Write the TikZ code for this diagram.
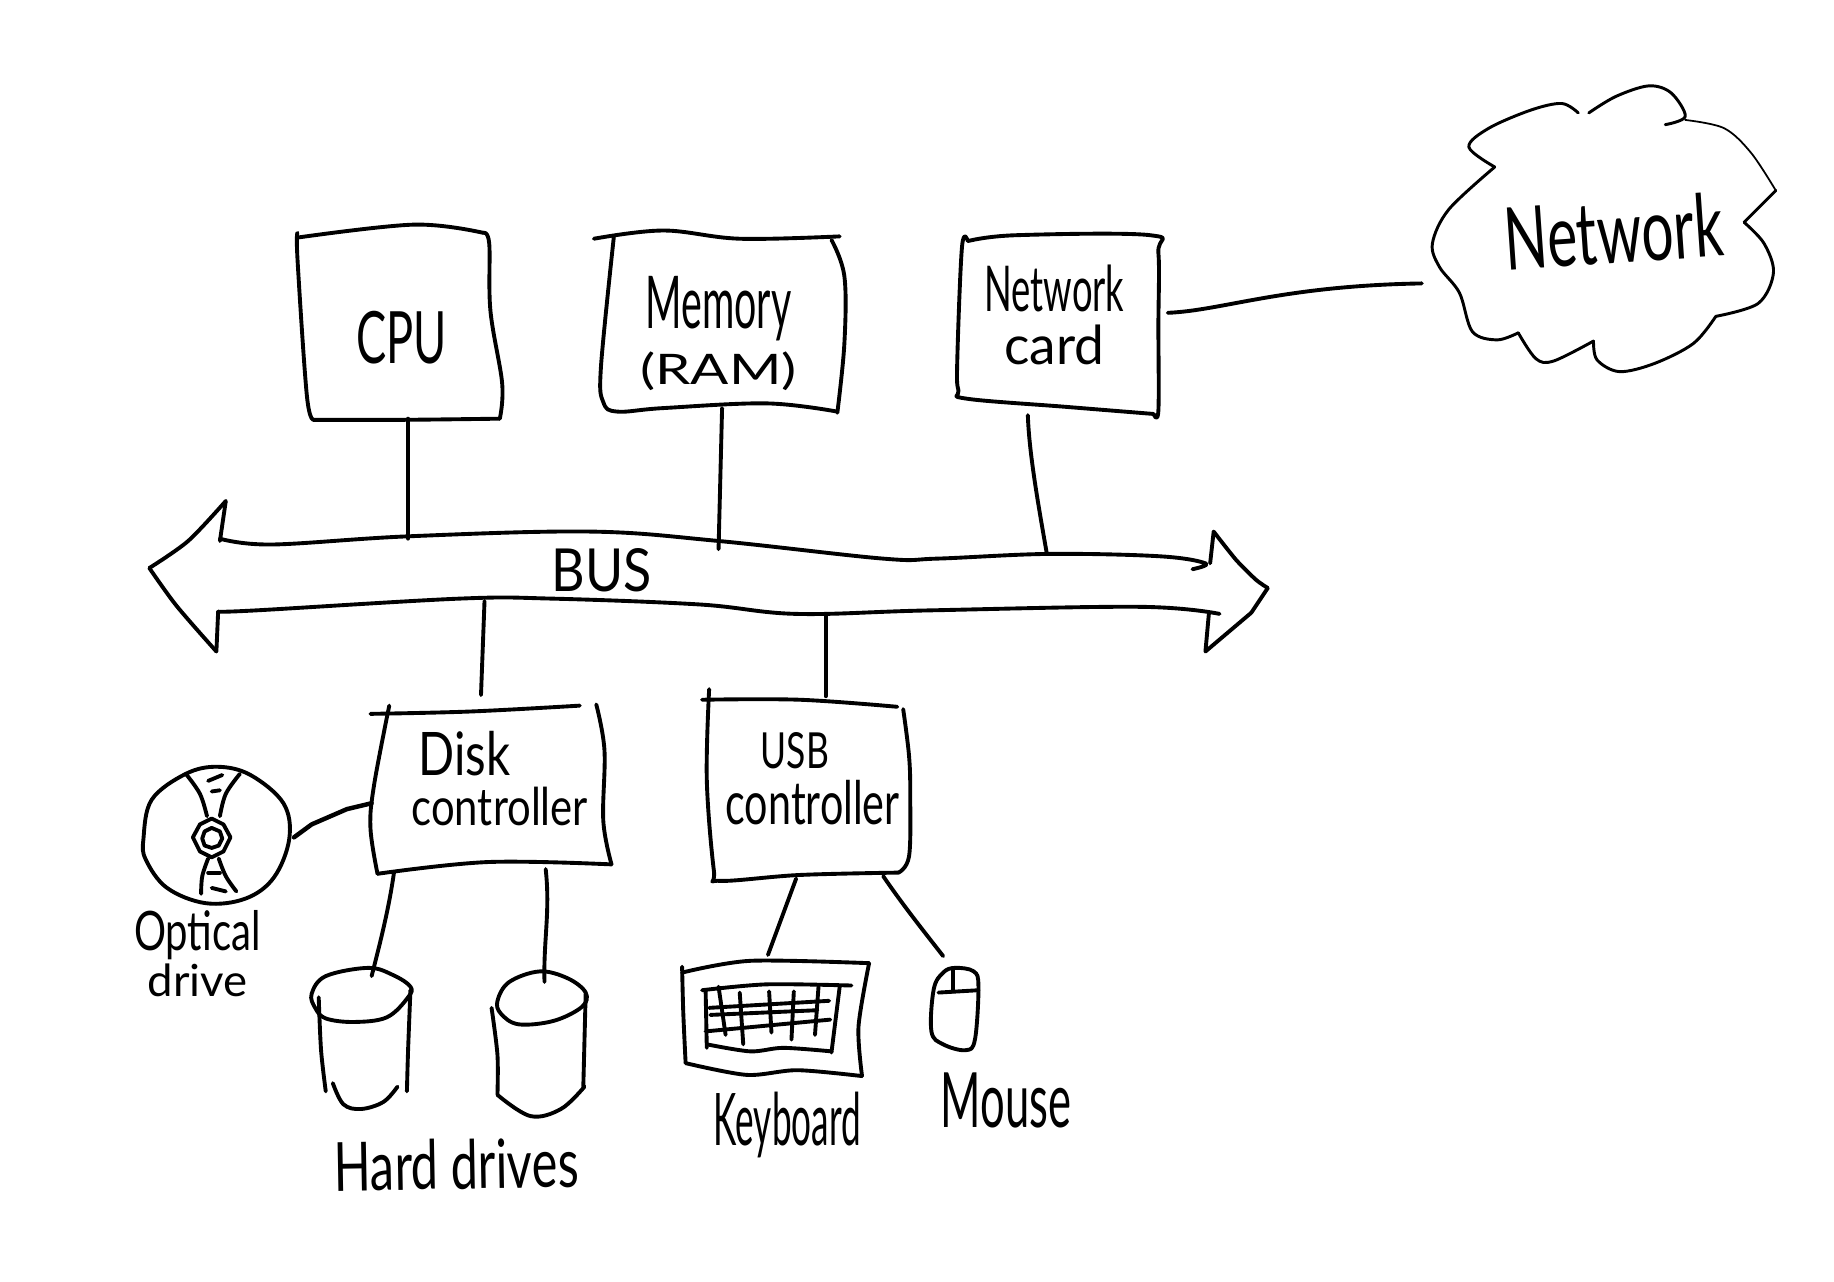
\documentclass[tikz,border=0pt]{standalone}
\usepackage{graphicx}
\usepackage{fontspec}
\setmainfont{Lato}
\newcommand{\hw}[3]{\resizebox*{#1pt}{#2pt}{#3}}
\tikzset{
  hand/.style={draw=black,line width=3.3pt,line cap=round,line join=round},
  thin hand/.style={hand,line width=2.5pt},
  fine hand/.style={hand,line width=1.5pt},
  lbl/.style={inner sep=0pt,outer sep=0pt,text=black,align=center},
  lbll/.style={inner sep=0pt,outer sep=0pt,text=black,align=left}
}
\begin{document}
\begin{tikzpicture}[x=1pt,y=-1pt]
\useasboundingbox[fill=white] (0,0) rectangle (1559.5,1090.1);
% CPU
\draw[hand] plot[smooth,tension=.6] coordinates {(253,202)(352,191)(411,198)};
\draw[hand] plot[smooth,tension=.6] coordinates {(411,198)(416,207)(417,264)(427,326)(425,356)};
\draw[hand] plot[smooth,tension=.6] coordinates {(425,356)(340,357)(267,357)};
\draw[hand] plot[smooth,tension=.6] coordinates {(267,357)(261,337)(253,221)(253,198)};
\node[lbl] (cpu) at (341.5,287) {\hw{77}{45}{CPU}};
% Memory
\draw[hand] plot[smooth,tension=.6] coordinates {(505,203)(564,196)(629,203)(714,201)};
\draw[hand] plot[smooth,tension=.6] coordinates {(707,204)(718,235)(718,292)(712,351)};
\draw[hand] plot[smooth,tension=.6] coordinates {(712,350)(652,343)(564,347)(525,350)(513,342)(511,312)(522,201)};
\node[lbl] (mem) at (611,283.5) {\hw{124}{55}{Memory}\\[8pt]\hw{133}{33}{(RAM)}};
% Network card
\draw[hand] plot[smooth,tension=.6] coordinates {(823,205)(864,200)(978,200)(985,215)(985,278)(985,349)(981,352)};
\draw[hand] plot[smooth,tension=.6] coordinates {(981,352)(907,346)(822,339)(815,332)(814,306)(818,210)(823,205)};
\node[lbl] (nic) at (896.5,267.5) {\hw{119}{40}{Network}\\[10pt]\hw{85}{34}{card}};
% Cloud
\draw[thin hand] plot[smooth,tension=.55] coordinates {(1351,96)(1374,82)(1402,73)(1421,79)(1433,99)(1416,106)};
\draw[fine hand] plot[smooth,tension=.55] coordinates {(1433,102)(1466,109)(1489,130)(1510,162)};
\draw[thin hand] plot[smooth,tension=.4] coordinates {(1510,162)(1483,189)};
\draw[thin hand] plot[smooth,tension=.55] coordinates {(1483,189)(1500,207)(1508,232)(1495,258)(1459,269)};
\draw[thin hand] plot[smooth,tension=.55] coordinates {(1459,269)(1440,292)(1407,309)(1377,316)(1358,306)(1355,290)};
\draw[thin hand] plot[smooth,tension=.55] coordinates {(1355,290)(1321,307)(1306,305)(1291,283)};
\draw[thin hand] plot[smooth,tension=.55] coordinates {(1291,283)(1273,289)(1252,282)(1241,249)(1224,227)(1218,207)(1232,178)(1271,142)};
\draw[thin hand] plot[smooth,tension=.55] coordinates {(1271,142)(1249,125)(1266,109)(1302,93.5)(1328,88)(1342,96)};
\node[lbl,rotate=4] (net) at (1372,197) {\hw{186}{55}{Network}};
% Bus
\draw[hand] plot[smooth,tension=.5] coordinates {(187,460)(192,426)};
\draw[hand] plot[smooth,tension=.5] coordinates {(192,426)(160,460)(127,483)};
\draw[hand] plot[smooth,tension=.5] coordinates {(127,483)(150,515)(184,554)};
\draw[hand] (184,554) -- (185.5,520);
\draw[hand] plot[smooth,tension=.6] coordinates {(187,458)(231,463)(348,456)(502,452)(611,460)(751,475)(797,475)(892,471)(986,473)(1025,479)(1014,484)};
\draw[hand] plot[smooth,tension=.6] coordinates {(185.5,520)(218,519)(391,509)(469,509)(595,514)(677,522)(791,519)(970,516)(1037,522)};
\draw[hand] (1029,479) -- (1032,452);
\draw[hand] plot[smooth,tension=.4] coordinates {(1032,452)(1051,476)(1068,493)(1078,500)};
\draw[hand] (1078,500) -- (1064,521) -- (1025,554) -- (1028,521);
\node[lbl] (bus) at (511.5,485) {\hw{85}{37}{BUS}};
% Disk controller
\draw[hand] plot[smooth,tension=.6] coordinates {(315,607)(400,605)(493,600)};
\draw[hand] plot[smooth,tension=.6] coordinates {(507,599)(514,638)(513,698)(520,735)};
\draw[hand] plot[smooth,tension=.6] coordinates {(520,735)(415,733)(321,743)};
\draw[hand] plot[smooth,tension=.6] coordinates {(321,743)(315,704)(318,668)(331,600)};
\node[lbll] (disk) at (425,662) {\hspace*{6pt}\hw{78}{38}{Disk}\\[9pt]\hw{150}{33}{controller}};
% USB controller
\draw[hand] plot[smooth,tension=.6] coordinates {(597,595)(680,595)(763,601)};
\draw[hand] plot[smooth,tension=.6] coordinates {(768,603)(773,643)(774,677)(773,728)(764,742)};
\draw[hand] plot[smooth,tension=.6] coordinates {(764,742)(680,744)(612,749)(607,740)(601,663)(603,586)};
\node[lbll] (usb) at (691,662) {\hspace*{30pt}\hw{58}{31}{USB}\\[9pt]\hw{148}{38}{controller}};
% Optical disc
\draw[hand] plot[smooth cycle,tension=.6] coordinates {(122,713)(129,680)(158,658)(185,652)(213,659)(241,683)(246,713)(233,746)(209,764)(175,768)(142,755)(124,731)};
\draw[hand] (180,696) -- (190,701) -- (196,712) -- (190,724) -- (180,729) -- (170,724) -- (164,712) -- (170,701) -- cycle;
\draw[hand] (180,704) -- (187,707) -- (189,713) -- (186,719) -- (180,721) -- (174,719) -- (172,713) -- (174,707) -- cycle;
\draw[hand] plot[smooth,tension=.6] coordinates {(158,658)(170,675)(176,694)};
\draw[hand] plot[smooth,tension=.6] coordinates {(204,658)(192,675)(187,694)};
\draw[hand] plot[smooth,tension=.6] coordinates {(177,730)(172,745)(171,760)};
\draw[hand] plot[smooth,tension=.6] coordinates {(186,730)(192,745)(201,758)};
\draw[hand] (177,664) -- (189,659);
\draw[hand] (180,673) -- (187,672);
\draw[hand] (177,742) -- (187,742);
\draw[hand] (180,755) -- (192,758);
\node[lbl] (opt) at (168,811) {\hw{108}{42}{Optical}\\[3pt]\hw{85}{28}{drive}};
% Hard drive 1
\draw[hand] plot[smooth cycle,tension=.6] coordinates {(268,857)(265,845)(277,830)(313,823)(334,829)(349,839)(347,848)(329,865)(301,869)(277,866)};
\draw[hand] plot[smooth,tension=.5] coordinates {(271,848)(273,893)(277,928)};
\draw[hand] plot[smooth,tension=.6] coordinates {(283,921)(292,939)(307,943)(326,937)(338,924)};
\draw[hand] plot[smooth,tension=.5] coordinates {(349,842)(347,893)(346,928)};
% Hard drive 2
\draw[hand] plot[smooth cycle,tension=.6] coordinates {(423,851)(433,835)(459,826)(483,832)(498,844)(495,856)(471,868)(441,871)(426,862)};
\draw[hand] plot[smooth,tension=.5] coordinates {(418,857)(423,897)(423,931)};
\draw[hand] plot[smooth,tension=.6] coordinates {(423,931)(451,949)(477,943)(497,924)};
\draw[hand] plot[smooth,tension=.5] coordinates {(498,845)(496,924)};
\node[lbl,rotate=1] (hdd) at (388,990) {\hw{208}{43}{Hard drives}};
% Keyboard
\draw[hand] plot[smooth,tension=.5] coordinates {(580,827)(638,817)(739,819)};
\draw[hand] plot[smooth,tension=.5] coordinates {(739,819)(730,873)(733,915)};
\draw[hand] plot[smooth,tension=.5] coordinates {(733,915)(678,910)(635,914)(583,904)};
\draw[hand] plot[smooth,tension=.5] coordinates {(583,904)(581,861)(580,822)};
\draw[hand] plot[smooth,tension=.5] coordinates {(597,842)(652,837)(724,838)};
\draw[hand] (600,842) -- (601,891);
\draw[hand] plot[smooth,tension=.5] coordinates {(601,888)(638,894)(666,891)(707,894)};
\draw[hand] (714,839) -- (707,895);
\draw[hand] (603,857) -- (705,851);
\draw[hand] (604,863) -- (695,859);
\draw[hand] (600,877) -- (706,867);
\draw[hand] (611,839) -- (617,880);
\draw[hand] (629,844) -- (632,888);
\draw[hand] (654,843) -- (656,878);
\draw[hand] (675,843) -- (673,884);
\draw[hand] (696,839) -- (693,880);
\node[lbl] (kbd) at (669.5,957) {\hw{125}{56}{Keyboard}};
% Mouse
\draw[hand] plot[smooth cycle,tension=.6] coordinates {(812,823)(828,826)(832,839)(829,884)(821,893)(802,888)(792,877)(794,841)(802,827)};
\draw[hand] (798,844) -- (832,842);
\draw[hand] (810,825) -- (810,843);
\node[lbl] (mouse) at (855.5,935.5) {\hw{111}{47}{Mouse}};
% Connector ends
\coordinate (cpuS) at (347,356);  \coordinate (busA) at (347,458);
\coordinate (memS) at (614,347);  \coordinate (busB) at (611,467);
\coordinate (nicS) at (874,353);  \coordinate (busC) at (890,470);
\coordinate (nicE) at (993,266);  \coordinate (netW) at (1209,241);
\coordinate (busD) at (412,511);  \coordinate (diskN) at (409,591);
\coordinate (busE) at (702,522);  \coordinate (usbN) at (702,592);
\coordinate (optE) at (250,712);  \coordinate (diskW) at (316,683);
\coordinate (diskS1) at (335,742); \coordinate (hd1N) at (316,830);
\coordinate (diskS2) at (464,739); \coordinate (hd2N) at (463,835);
\coordinate (usbS1) at (677,747); \coordinate (kbdN) at (653,812);
\coordinate (usbS2) at (751,745); \coordinate (mouseN) at (802,813);
% Connectors
\draw[hand] (cpuS) -- (busA);
\draw[hand] (memS) -- (busB);
\draw[hand] (nicS) .. controls (875,385) and (883,430) .. (busC);
\draw[hand] (nicE) .. controls (1040,264) and (1090,243) .. (netW);
\draw[hand] (busD) -- (diskN);
\draw[hand] (busE) -- (usbN);
\draw[hand,line width=3.8pt] (optE) -- (265,701) -- (295,688) -- (diskW);
\draw[hand] (diskS1) .. controls (331,770) and (325,795) .. (hd1N);
\draw[hand] (diskS2) .. controls (468,775) and (462,800) .. (hd2N);
\draw[hand] (usbS1) -- (kbdN);
\draw[hand] (usbS2) .. controls (768,770) and (788,795) .. (mouseN);
\end{tikzpicture}
\end{document}
